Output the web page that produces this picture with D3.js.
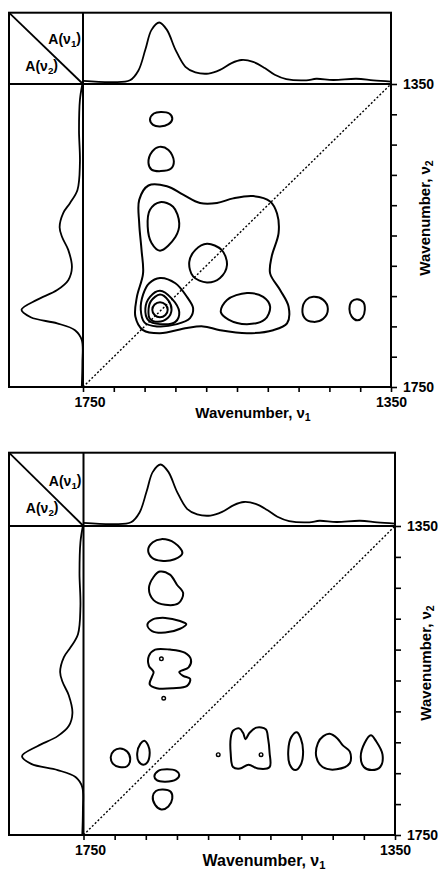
<!DOCTYPE html>
<html>
<head>
<meta charset="utf-8">
<script src="https://cdn.jsdelivr.net/npm/d3@7"></script>
<style>
  body { margin: 0; background: #fff; }
  svg { display: block; font-family: "Liberation Sans", Arial, sans-serif; font-weight: bold; }
</style>
</head>
<body>
<script>
const width = 438;
const height = 873;

// wavenumber range (cm-1) and tick step
const nuHigh = 1750;
const nuLow = 1350;
const tickStep = 40;

// 1D reference spectrum drawn above the map, A(v1)
const topSpecNu  = [1750, 1711, 1689, 1678, 1669, 1661, 1651, 1641, 1630, 1617, 1604, 1587, 1572,
                    1557, 1544, 1529, 1514, 1501, 1486, 1460, 1447, 1425, 1395, 1373, 1350];
const topSpecAbs = [0.05, 0.03, 0.06, 0.22, 0.56, 0.88, 1.0, 0.88, 0.56, 0.28, 0.19, 0.17, 0.23,
                    0.34, 0.39, 0.36, 0.26, 0.15, 0.08, 0.06, 0.085, 0.065, 0.085, 0.06, 0.04];

// 1D reference spectrum drawn left of the map, A(v2)
const sideSpecNu  = [1350, 1371, 1411, 1454, 1490, 1507, 1520, 1539, 1552, 1569, 1592, 1609, 1622,
                     1635, 1648, 1658, 1666, 1675, 1688, 1718, 1750];
const sideSpecAbs = [0.01, 0.05, 0.065, 0.05, 0.09, 0.21, 0.32, 0.38, 0.34, 0.24, 0.18, 0.24, 0.42,
                     0.75, 1.0, 0.85, 0.42, 0.13, 0.02, 0.01, 0.02];

// synchronous map contours, points as [v1, v2]
const syncContours = [
  [[1665,1484],[1641,1485],[1620,1496],[1598,1507],[1576,1507],[1555,1501],[1529,1498],[1507,1505],
   [1498,1521],[1496,1547],[1505,1578],[1507,1600],[1494,1622],[1483,1644],[1485,1666],[1503,1675],
   [1537,1679],[1572,1675],[1594,1670],[1615,1672],[1650,1679],[1672,1675],[1682,1657],[1680,1631],
   [1672,1600],[1674,1569],[1677,1534],[1677,1503]],
  [[1650,1506],[1633,1512],[1625,1534],[1630,1552],[1650,1570],[1661,1560],[1666,1538],[1663,1516]],
  [[1589,1561],[1570,1569],[1563,1589],[1572,1606],[1589,1612],[1607,1604],[1612,1585],[1604,1569]],
  [[1650,1606],[1630,1613],[1615,1631],[1607,1646],[1611,1659],[1628,1667],[1654,1670],[1670,1665],
   [1675,1648],[1672,1628],[1664,1613]],
  [[1650,1623],[1635,1633],[1625,1651],[1630,1664],[1650,1667],[1665,1662],[1669,1646],[1663,1631]],
  [[1650,1628],[1639,1636],[1635,1648],[1640,1659],[1653,1664],[1663,1660],[1665,1651],[1662,1637]],
  [[1650,1638],[1643,1641],[1640,1648],[1643,1655],[1650,1658],[1657,1655],[1660,1648],[1657,1641]],
  [[1537,1626],[1516,1631],[1507,1644],[1514,1661],[1537,1667],[1561,1661],[1571,1651],[1563,1635]],
  [[1451,1631],[1438,1635],[1432,1647],[1438,1660],[1451,1664],[1462,1659],[1465,1647],[1460,1635]],
  [[1394,1634],[1386,1638],[1384,1648],[1387,1658],[1394,1662],[1401,1657],[1404,1647],[1401,1637]],
  [[1649,1387],[1638,1389],[1634,1396],[1639,1403],[1650,1406],[1659,1404],[1663,1397],[1658,1389]],
  [[1651,1433],[1639,1437],[1632,1452],[1636,1462],[1649,1465],[1661,1463],[1665,1454],[1660,1439]]
];

// asynchronous map contours, points as [v1, v2]
const asyncContours = [
  [[1650,1367],[1633,1372],[1623,1385],[1633,1393],[1650,1395],[1662,1391],[1667,1381],[1661,1371]],
  [[1652,1409],[1639,1413],[1630,1426],[1622,1437],[1628,1450],[1645,1452],[1660,1446],[1666,1431],[1660,1416]],
  [[1645,1469],[1626,1473],[1618,1477],[1626,1483],[1645,1488],[1662,1486],[1668,1478],[1661,1471]],
  [[1658,1510],[1639,1510],[1620,1514],[1612,1523],[1615,1533],[1627,1539],[1622,1544],[1613,1548],
   [1617,1557],[1635,1560],[1656,1560],[1665,1555],[1662,1545],[1660,1539],[1666,1531],[1666,1518]],
  [[1703,1638],[1694,1642],[1690,1652],[1694,1661],[1704,1662],[1712,1658],[1715,1649],[1711,1641]],
  [[1672,1628],[1667,1634],[1665,1644],[1668,1656],[1673,1659],[1679,1655],[1681,1644],[1677,1632]],
  [[1643,1665],[1631,1667],[1627,1672],[1631,1678],[1645,1681],[1656,1679],[1659,1674],[1654,1667]],
  [[1648,1691],[1638,1694],[1636,1703],[1641,1713],[1650,1717],[1658,1711],[1661,1700],[1657,1693]],
  [[1558,1615],[1550,1612],[1545,1618],[1542,1626],[1537,1618],[1528,1611],[1516,1613],[1513,1625],
   [1511,1644],[1511,1662],[1526,1664],[1538,1659],[1549,1664],[1558,1662],[1561,1644],[1561,1625]],
  [[1476,1617],[1471,1625],[1468,1642],[1471,1659],[1478,1666],[1485,1659],[1487,1640],[1483,1623]],
  [[1434,1619],[1424,1625],[1417,1634],[1408,1642],[1408,1657],[1425,1665],[1443,1662],[1451,1649],
   [1449,1631],[1442,1622]],
  [[1381,1621],[1374,1629],[1366,1646],[1369,1662],[1380,1666],[1390,1662],[1394,1649],[1389,1631]]
];
// tiny closed contours in the asynchronous map
const asyncDots = [[1650,1522],[1647,1573],[1577,1646],[1522,1646]];

// page layout of the two panels
const panels = [
  { left: 9, top: 12.7, sepX: 83, sepY: 84, right: 391, bottom: 387,
    xTitle: [253, 418], xTitleSize: 15, yTitle: [430, 218],
    contours: syncContours, dots: [] },
  { left: 9, top: 452.7, sepX: 83.5, sepY: 526, right: 395, bottom: 835,
    xTitle: [264, 866], xTitleSize: 16, yTitle: [431, 663],
    contours: asyncContours, dots: asyncDots }
];
const specHeight = 61.5;

let svg = d3.select("body")
            .append("svg")
            .attr("width", width)
            .attr("height", height);

function subLabel(text, base, sub, size) {
  text.attr("font-size", size);
  text.append("tspan").text(base);
  text.append("tspan").attr("dy", "0.3em").attr("font-size", size * 0.7).text(sub);
}

function drawPanel(p) {
  const g = svg.append("g");

  const x = d3.scaleLinear().domain([nuHigh, nuLow]).range([p.sepX, p.right]);
  const y = d3.scaleLinear().domain([nuLow, nuHigh]).range([p.sepY, p.bottom]);
  const aTop = d3.scaleLinear().domain([0, 1]).range([p.sepY, p.sepY - specHeight]);
  const aSide = d3.scaleLinear().domain([0, 1]).range([p.sepX, p.sepX - specHeight]);

  // frame
  g.append("rect")
   .attr("x", p.left).attr("y", p.top)
   .attr("width", p.right - p.left).attr("height", p.bottom - p.top)
   .attr("fill", "none").attr("stroke", "#000").attr("stroke-width", 2);
  g.append("line")
   .attr("x1", p.sepX).attr("x2", p.sepX).attr("y1", p.top).attr("y2", p.bottom)
   .attr("stroke", "#000").attr("stroke-width", 2);
  g.append("line")
   .attr("x1", p.left).attr("x2", p.right).attr("y1", p.sepY).attr("y2", p.sepY)
   .attr("stroke", "#000").attr("stroke-width", 2);
  g.append("line")
   .attr("x1", p.left).attr("y1", p.top).attr("x2", p.sepX).attr("y2", p.sepY)
   .attr("stroke", "#000").attr("stroke-width", 1.8);

  // corner labels
  const a1 = g.append("text").attr("x", p.sepX - 2).attr("y", p.sepY - 40).attr("text-anchor", "end");
  subLabel(a1, "A(ν", "1", 14);
  a1.append("tspan").attr("dy", "-0.3em").text(")");
  const a2 = g.append("text").attr("x", p.sepX - 25).attr("y", p.sepY - 13).attr("text-anchor", "end");
  subLabel(a2, "A(ν", "2", 14);
  a2.append("tspan").attr("dy", "-0.3em").text(")");

  // 1D spectra
  const topLine = d3.line()
                    .x(i => x(topSpecNu[i]))
                    .y(i => aTop(topSpecAbs[i]))
                    .curve(d3.curveCatmullRom.alpha(0.5));
  g.append("path")
   .attr("d", topLine(d3.range(topSpecNu.length)))
   .attr("fill", "none").attr("stroke", "#000").attr("stroke-width", 1.8);

  const sideLine = d3.line()
                     .x(i => aSide(sideSpecAbs[i]))
                     .y(i => y(sideSpecNu[i]))
                     .curve(d3.curveCatmullRom.alpha(0.5));
  g.append("path")
   .attr("d", sideLine(d3.range(sideSpecNu.length)))
   .attr("fill", "none").attr("stroke", "#000").attr("stroke-width", 1.8);

  // diagonal
  g.append("line")
   .attr("x1", x(nuHigh)).attr("y1", y(nuHigh))
   .attr("x2", x(nuLow)).attr("y2", y(nuLow))
   .attr("stroke", "#000").attr("stroke-width", 1.4)
   .attr("stroke-dasharray", "2,2");

  // contours
  const contourLine = d3.line()
                        .x(d => x(d[0]))
                        .y(d => y(d[1]))
                        .curve(d3.curveCatmullRomClosed.alpha(0.5));
  g.selectAll(".contour")
   .data(p.contours)
   .enter()
   .append("path")
   .attr("class", "contour")
   .attr("d", contourLine)
   .attr("fill", "none").attr("stroke", "#000").attr("stroke-width", 2);

  g.selectAll(".dot")
   .data(p.dots)
   .enter()
   .append("circle")
   .attr("class", "dot")
   .attr("cx", d => x(d[0])).attr("cy", d => y(d[1]))
   .attr("r", 1.8)
   .attr("fill", "none").attr("stroke", "#000").attr("stroke-width", 1.4);

  // axes
  const labelOnly = d => (d === nuHigh || d === nuLow) ? d : "";
  const xAxis = d3.axisBottom(x)
                  .tickValues(d3.range(nuHigh, nuLow - 1, -tickStep))
                  .tickSize(5).tickSizeOuter(0).tickPadding(5)
                  .tickFormat(labelOnly);
  const xg = g.append("g")
              .attr("transform", `translate(0, ${p.bottom})`)
              .call(xAxis);

  const yAxis = d3.axisRight(y)
                  .tickValues(d3.range(nuLow, nuHigh + 1, tickStep))
                  .tickSize(6).tickSizeOuter(0).tickPadding(6)
                  .tickFormat(labelOnly);
  const yg = g.append("g")
              .attr("transform", `translate(${p.right}, 0)`)
              .call(yAxis);

  [xg, yg].forEach(a => {
    a.attr("font-family", null).attr("font-size", 14);
    a.select(".domain").remove();
    a.selectAll(".tick line").attr("stroke-width", 1.6);
  });
  xg.selectAll(".tick text").filter(d => d === nuHigh).attr("dx", 6.5);

  // axis titles
  const xt = g.append("text")
              .attr("x", p.xTitle[0]).attr("y", p.xTitle[1])
              .attr("text-anchor", "middle");
  subLabel(xt, "Wavenumber, ν", "1", p.xTitleSize);

  const yt = g.append("text")
              .attr("transform", `translate(${p.yTitle[0]}, ${p.yTitle[1]}) rotate(-90)`)
              .attr("text-anchor", "middle");
  subLabel(yt, "Wavenumber, ν", "2", 15);
}

panels.forEach(drawPanel);
</script>
</body>
</html>
